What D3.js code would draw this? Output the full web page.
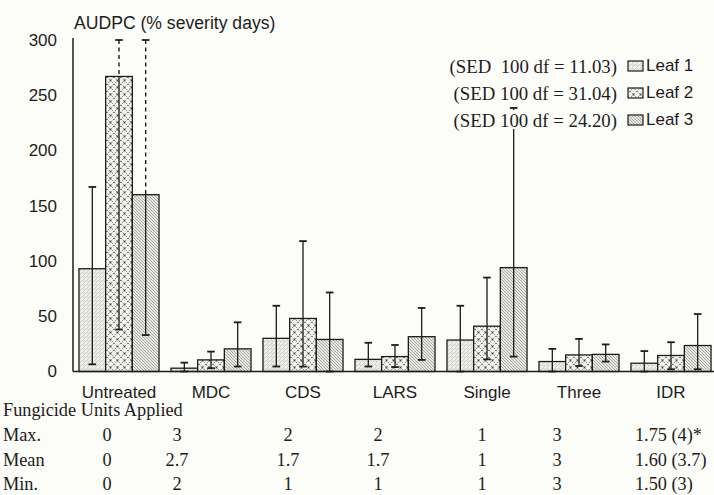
<!DOCTYPE html>
<html>
<head>
<meta charset="utf-8">
<script src="https://cdn.jsdelivr.net/npm/d3@7/dist/d3.min.js"></script>
<style>
  html, body { margin: 0; padding: 0; background: #fcfcf8; }
  svg { display: block; }
  .sans { font-family: "Liberation Sans", Arial, sans-serif; }
  .serif { font-family: "Liberation Serif", "Times New Roman", serif; }
</style>
</head>
<body>
<svg id="chart" width="714" height="495"></svg>
<script>
// Treatments and AUDPC means for each leaf layer
const categories = ["Untreated", "MDC", "CDS", "LARS", "Single", "Three", "IDR"];
const leaves = ["Leaf 1", "Leaf 2", "Leaf 3"];
const leaf1 = [93, 3, 30, 11, 28.5, 9, 7.5];
const leaf2 = [267, 10.5, 48, 13.5, 41, 15, 14.5];
const leaf3 = [160, 20.5, 29, 31.5, 94, 15.5, 23.5];

// Error bar limits (upper / lower); values above the axis maximum are cut off and dashed
const leaf1High = [167, 8, 59.5, 26, 59.5, 20.5, 18.5];
const leaf1Low  = [6.5, 0, 4.5, 4.5, 0, 0, 0];
const leaf2High = [496, 18, 118, 24, 85, 29.5, 26.5];
const leaf2Low  = [38, 3, 4.5, 4, 11, 5, 2];
const leaf3High = [310, 44.5, 71.5, 57.5, 238.5, 24.5, 52];
const leaf3Low  = [33, 4.5, 0, 10.5, 13.5, 9, 2];

const yTicks = [0, 50, 100, 150, 200, 250, 300];
const sedLabels = ["(SED  100 df = 11.03)", "(SED 100 df = 31.04)", "(SED 100 df = 24.20)"];

// Fungicide units applied per treatment
const tableTitle = "Fungicide Units Applied";
const rowLabels = ["Max.", "Mean", "Min."];
const maxUnits  = ["0", "3", "2", "2", "1", "3", "1.75 (4)*"];
const meanUnits = ["0", "2.7", "1.7", "1.7", "1", "3", "1.60 (3.7)"];
const minUnits  = ["0", "2", "1", "1", "1", "3", "1.50 (3)"];

const values = [leaf1, leaf2, leaf3];
const highs = [leaf1High, leaf2High, leaf3High];
const lows = [leaf1Low, leaf2Low, leaf3Low];

const svg = d3.select("#chart");
const ink = "#1c1c1c";
const bg = "#fcfcf8";

const x0 = d3.scaleBand().domain(categories).range([73, 717]).paddingInner(0.13).paddingOuter(0.065);
const x1 = d3.scaleBand().domain(leaves).range([0, x0.bandwidth()]).padding(0);
const y = d3.scaleLinear().domain([0, 300]).range([371.5, 40]);

// Fill patterns for the three leaves
const defs = svg.append("defs");
const p1 = defs.append("pattern").attr("id", "pLeaf1").attr("patternUnits", "userSpaceOnUse")
  .attr("width", 4).attr("height", 4);
p1.append("rect").attr("width", 4).attr("height", 4).attr("fill", "#f0f0ea");
p1.append("path").attr("d", "M0,4 L4,0 M-1,1 L1,-1 M3,5 L5,3").attr("stroke", "#bdbdb6").attr("stroke-width", 0.6);
p1.append("circle").attr("cx", 1).attr("cy", 1).attr("r", 0.5).attr("fill", "#9a9a94");

const p2 = defs.append("pattern").attr("id", "pLeaf2").attr("patternUnits", "userSpaceOnUse")
  .attr("width", 7).attr("height", 7);
p2.append("rect").attr("width", 7).attr("height", 7).attr("fill", "#f2f2ec");
p2.append("path").attr("d", "M0,0 L7,7 M7,0 L0,7").attr("stroke", "#555").attr("stroke-width", 0.9)
  .attr("stroke-dasharray", "1.2,1.3");
p2.append("circle").attr("cx", 3.5).attr("cy", 3.5).attr("r", 0.9).attr("fill", "#444");

const p3 = defs.append("pattern").attr("id", "pLeaf3").attr("patternUnits", "userSpaceOnUse")
  .attr("width", 3).attr("height", 3);
p3.append("rect").attr("width", 3).attr("height", 3).attr("fill", "#e8e8e2");
p3.append("path").attr("d", "M0,0 L3,3 M-1,2 L1,4 M2,-1 L4,1").attr("stroke", "#8e8e88").attr("stroke-width", 0.7);

const fills = ["url(#pLeaf1)", "url(#pLeaf2)", "url(#pLeaf3)"];

// Bars
const groups = svg.append("g").selectAll("g").data(categories).join("g")
  .attr("transform", d => `translate(${x0(d)},0)`);

groups.selectAll("rect").data((c, i) => leaves.map((l, k) => ({ leaf: l, k, v: values[k][i] })))
  .join("rect")
  .attr("x", d => x1(d.leaf))
  .attr("y", d => y(d.v))
  .attr("width", x1.bandwidth())
  .attr("height", d => y(0) - y(d.v))
  .attr("fill", d => fills[d.k])
  .attr("stroke", ink).attr("stroke-width", 1.3);

// Error bars
const capW = 3.8;
const errData = [];
categories.forEach((c, i) => leaves.forEach((l, k) => {
  errData.push({ cx: x0(c) + x1(l) + x1.bandwidth() / 2, v: values[k][i], hi: highs[k][i], lo: lows[k][i] });
}));
const eg = svg.append("g").attr("stroke", ink);
errData.forEach(d => {
  const top = Math.min(d.hi, y.domain()[1]);
  const cut = d.hi > y.domain()[1];
  if (cut) {
    eg.append("line").attr("x1", d.cx).attr("x2", d.cx).attr("y1", y(top)).attr("y2", y(d.v))
      .attr("stroke-width", 1.4).attr("stroke-dasharray", "4,3.5");
    eg.append("line").attr("x1", d.cx).attr("x2", d.cx).attr("y1", y(d.v)).attr("y2", y(d.lo))
      .attr("stroke-width", 1.3);
  } else {
    eg.append("line").attr("x1", d.cx).attr("x2", d.cx).attr("y1", y(top)).attr("y2", y(d.lo))
      .attr("stroke-width", 1.3);
  }
  eg.append("line").attr("x1", d.cx - capW).attr("x2", d.cx + capW).attr("y1", y(top)).attr("y2", y(top))
    .attr("stroke-width", 1.8);
  eg.append("line").attr("x1", d.cx - capW).attr("x2", d.cx + capW).attr("y1", y(d.lo)).attr("y2", y(d.lo))
    .attr("stroke-width", 1.8);
});

// Axes
const yAxis = d3.axisLeft(y).tickValues(yTicks).tickSize(0).tickPadding(16);
const ga = svg.append("g").attr("transform", "translate(73,0)").call(yAxis);
ga.select(".domain").attr("stroke", ink).attr("stroke-width", 1.5).attr("d", `M0,${y(300) - 2}V${y(0)}`);
ga.selectAll("text").attr("class", "sans").attr("font-size", 17).attr("fill", ink);

svg.append("line").attr("x1", 73).attr("x2", 714).attr("y1", y(0)).attr("y2", y(0))
  .attr("stroke", ink).attr("stroke-width", 1.5);

const xAxis = d3.axisBottom(x0).tickSize(0).tickPadding(14);
const gx = svg.append("g").attr("transform", `translate(0,${y(0)})`).call(xAxis);
gx.select(".domain").remove();
gx.selectAll("text").attr("class", "sans").attr("font-size", 17).attr("fill", ink);

// Title
svg.append("text").attr("class", "sans").attr("x", 74).attr("y", 29).attr("font-size", 17.6)
  .attr("fill", ink).text("AUDPC (% severity days)");

// Legend
const lg = svg.append("g");
const rowY = [71, 98, 125];
leaves.forEach((l, k) => {
  lg.append("rect").attr("x", 446).attr("y", rowY[k] - 15).attr("width", 172).attr("height", 19).attr("fill", bg);
  lg.append("text").attr("class", "serif").attr("x", 617).attr("y", rowY[k] + 2).attr("text-anchor", "end")
    .attr("font-size", 18.8).attr("fill", ink).style("white-space", "pre").text(sedLabels[k]);
  lg.append("rect").attr("x", 628).attr("y", rowY[k] - 10).attr("width", 15).attr("height", 10)
    .attr("fill", fills[k]).attr("stroke", ink).attr("stroke-width", 1.2);
  lg.append("text").attr("class", "sans").attr("x", 646).attr("y", rowY[k]).attr("font-size", 17)
    .attr("fill", ink).text(l);
});

// Units table below the chart
const colX = [107, 177, 288, 378, 482, 557];
const tg = svg.append("g").attr("class", "serif").attr("font-size", 18.3).attr("fill", ink);
tg.append("text").attr("x", 3).attr("y", 416).text(tableTitle);
const rowsY = [441, 466, 490];
[maxUnits, meanUnits, minUnits].forEach((row, r) => {
  tg.append("text").attr("x", 3).attr("y", rowsY[r]).text(rowLabels[r]);
  row.forEach((v, i) => {
    const last = i === row.length - 1;
    tg.append("text")
      .attr("x", last ? x0(categories[i]) + 4 : colX[i])
      .attr("y", rowsY[r])
      .attr("text-anchor", last ? "start" : "middle")
      .text(v);
  });
});
</script>
</body>
</html>
